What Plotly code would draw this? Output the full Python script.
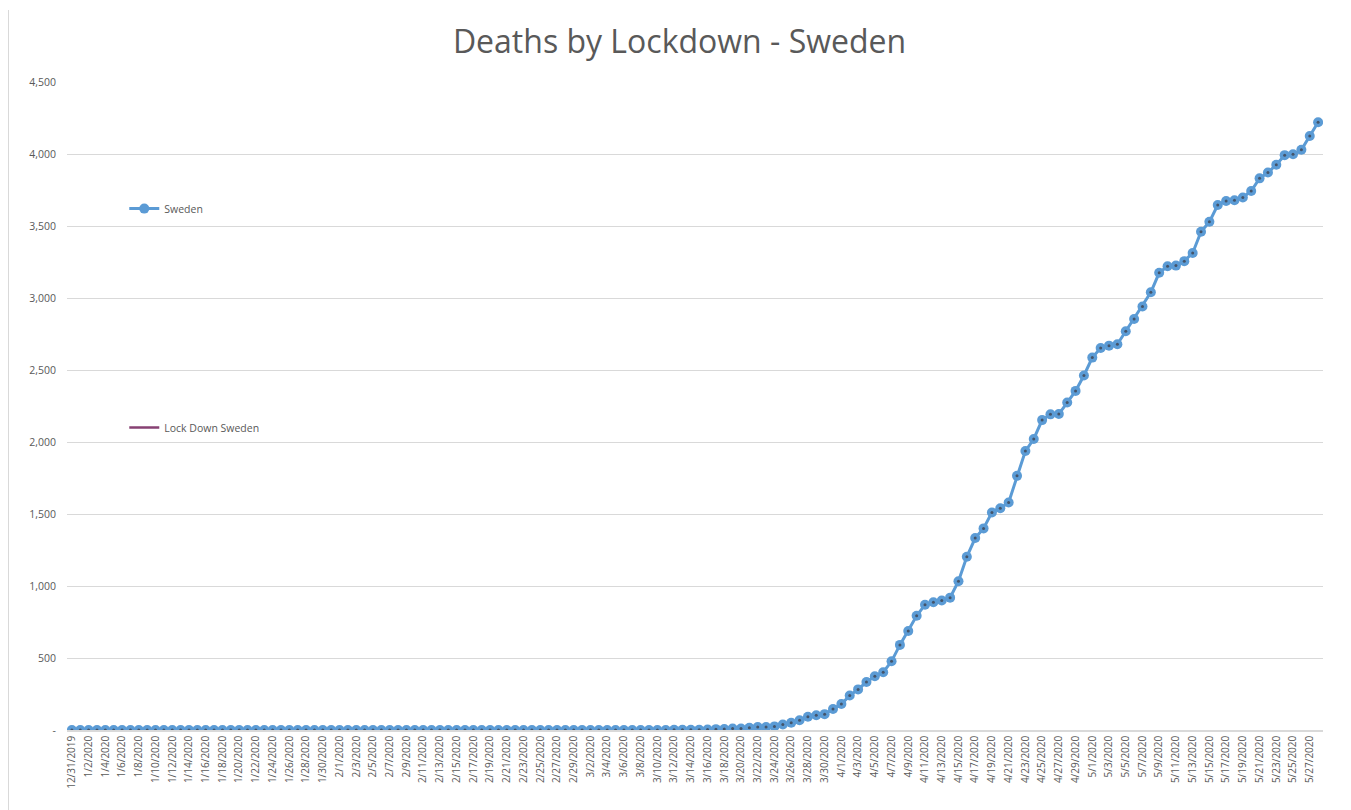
import pandas as pd
import plotly.graph_objects as go

# ---------------- data ----------------
start_date = "2019-12-31"
end_date = "2020-05-28"
dates = pd.date_range(start_date, end_date, freq="D")

sweden_deaths = [
    # 12/31/2019
    0,
    # January 2020
    0, 0, 0, 0, 0, 0, 0, 0, 0, 0, 0, 0, 0, 0, 0, 0, 0, 0, 0, 0, 0, 0, 0, 0, 0, 0, 0, 0, 0, 0, 0,
    # February 2020
    0, 0, 0, 0, 0, 0, 0, 0, 0, 0, 0, 0, 0, 0, 0, 0, 0, 0, 0, 0, 0, 0, 0, 0, 0, 0, 0, 0, 0,
    # March 1-11
    0, 0, 0, 0, 0, 0, 0, 0, 0, 0, 0,
    # March 12-31
    1, 1, 1, 2, 3, 6, 7, 10, 11, 16, 20, 21, 25, 38, 50, 68, 92, 103, 110, 146,
    # April
    180, 239, 282, 333, 373, 401, 477, 591, 687, 793,
    870, 887, 899, 919, 1033, 1203, 1333, 1400, 1511, 1540,
    1580, 1765, 1937, 2021, 2152, 2192, 2194, 2274, 2355, 2462,
    # May 1-28
    2586, 2653, 2669, 2679, 2769, 2854, 2941, 3040, 3175, 3220,
    3225, 3256, 3313, 3460, 3529, 3646, 3674, 3679, 3698, 3743,
    3831, 3871, 3925, 3992, 3998, 4029, 4125, 4220,
]

lockdown_sweden = [None] * len(sweden_deaths)  # no lockdown: series is empty

y_tick_values = [0, 500, 1000, 1500, 2000, 2500, 3000, 3500, 4000, 4500]
y_tick_labels = ["-", "500", "1,000", "1,500", "2,000", "2,500", "3,000", "3,500", "4,000", "4,500"]

title_text = "Deaths by Lockdown - Sweden"
series_names = ["Sweden", "Lock Down Sweden"]

# ---------------- figure ----------------
BLUE = "#5B9BD5"
DOT = "#44546A"
PLUM = "#874173"
GREY_TXT = "#595959"
GRID = "#D9D9D9"
FONT = "Open Sans"

W, H = 1343, 802
L, R, T, B = 59, 28, 74, 80
PW = W - L - R
PH = H - T - B

fig = go.Figure()

fig.add_trace(go.Scatter(
    x=dates, y=sweden_deaths, name=series_names[0],
    mode="lines+markers",
    line=dict(color=BLUE, width=3),
    marker=dict(symbol="circle", size=10, color=BLUE),
    legendgroup="g1",
))
fig.add_trace(go.Scatter(
    x=dates, y=sweden_deaths, mode="markers",
    marker=dict(symbol="circle", size=3, color=DOT),
    showlegend=False, hoverinfo="skip",
))
fig.add_trace(go.Scatter(
    x=dates, y=lockdown_sweden, name=series_names[1],
    mode="lines", line=dict(color=PLUM, width=2.5),
    legendgroup="g2",
))

half_day = pd.Timedelta(hours=14)
fig.update_layout(
    width=W, height=H,
    margin=dict(l=L, r=R, t=T, b=B, autoexpand=False),
    paper_bgcolor="white", plot_bgcolor="white",
    title=dict(text=title_text, x=0.5, xref="container", xanchor="center",
               y=1 - 34 / H, yanchor="middle",
               font=dict(family=FONT, size=32, color=GREY_TXT)),
    font=dict(family=FONT, color=GREY_TXT),
    showlegend=True,
    legend=dict(x=0.0456, y=0.827, xanchor="left", yanchor="top",
                bgcolor="rgba(0,0,0,0)", borderwidth=0,
                font=dict(family=FONT, size=10.5, color=GREY_TXT),
                tracegroupgap=200, itemwidth=30),
    xaxis=dict(
        type="date",
        range=[dates[0] - half_day, dates[-1] + half_day],
        tick0=dates[0], dtick=2 * 86400000,
        tickformat="%-m/%-d/%Y", tickangle=-90,
        tickfont=dict(family=FONT, size=10, color=GREY_TXT),
        showgrid=False, showline=True, linecolor=GRID, linewidth=1.5,
        ticks="", zeroline=False, automargin=False,
    ),
    yaxis=dict(
        range=[0, 4500],
        tickvals=y_tick_values, ticktext=y_tick_labels,
        tickfont=dict(family=FONT, size=10.5, color=GREY_TXT),
        showgrid=True, gridcolor=GRID, gridwidth=1,
        showline=False, zeroline=False, ticks="",
        ticklabelstandoff=10, automargin=False,
    ),
)

# chart-area border (left / right)
for px in (0.5, 1340):
    fig.add_shape(type="line", xref="paper", yref="paper",
                  x0=(px - L) / PW, x1=(px - L) / PW,
                  y0=-B / PH, y1=(H - B - 2) / PH,
                  line=dict(color=GRID, width=1))

fig.write_html("out.html")
